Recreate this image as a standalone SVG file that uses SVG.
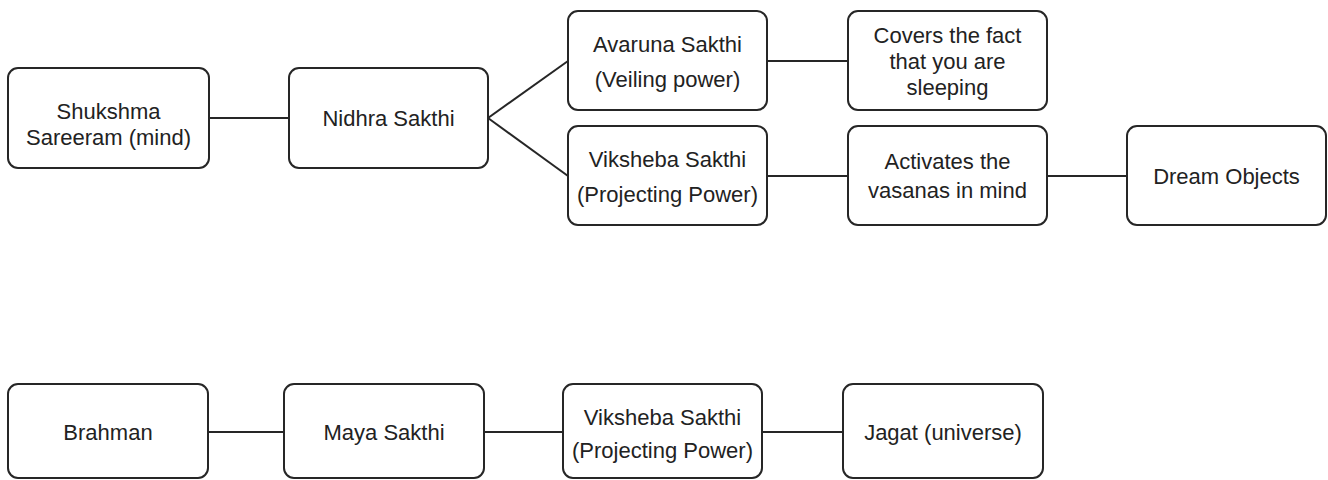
<svg xmlns="http://www.w3.org/2000/svg" width="1328" height="480" viewBox="0 0 1328 480">
<style>
.box{fill:#ffffff;stroke:#262626;stroke-width:2}
.lbl{font-family:"Liberation Sans",Arial,sans-serif;font-size:22px;fill:#222222;text-anchor:middle}
.con{stroke:#262626;stroke-width:2;fill:none}
</style>
<rect width="1328" height="480" fill="#ffffff"/>
<g id="connectors">
<line class="con" x1="209" y1="118" x2="289" y2="118"/>
<line class="con" x1="488" y1="118" x2="568" y2="61"/>
<line class="con" x1="488" y1="118" x2="568" y2="176"/>
<line class="con" x1="767" y1="61" x2="848" y2="61"/>
<line class="con" x1="767" y1="176" x2="848" y2="176"/>
<line class="con" x1="1047" y1="176" x2="1127" y2="176"/>
<line class="con" x1="208" y1="432" x2="284" y2="432"/>
<line class="con" x1="484" y1="432" x2="563" y2="432"/>
<line class="con" x1="762" y1="432" x2="843" y2="432"/>
</g>
<g id="shukshma"><rect class="box" x="8" y="68" width="201" height="100" rx="10"/><text class="lbl" x="108.5" y="119">Shukshma</text><text class="lbl" x="108.5" y="145">Sareeram (mind)</text></g>
<g id="nidhra"><rect class="box" x="289" y="68" width="199" height="100" rx="10"/><text class="lbl" x="388.5" y="126">Nidhra Sakthi</text></g>
<g id="avaruna"><rect class="box" x="568" y="11" width="199" height="99" rx="10"/><text class="lbl" x="667.5" y="52">Avaruna Sakthi</text><text class="lbl" x="667.5" y="87">(Veiling power)</text></g>
<g id="viksheba1"><rect class="box" x="568" y="126" width="199" height="99" rx="10"/><text class="lbl" x="667.5" y="167">Viksheba Sakthi</text><text class="lbl" x="667.5" y="202">(Projecting Power)</text></g>
<g id="covers"><rect class="box" x="848" y="11" width="199" height="99" rx="10"/><text class="lbl" x="947.5" y="43">Covers the fact</text><text class="lbl" x="947.5" y="69">that you are</text><text class="lbl" x="947.5" y="95">sleeping</text></g>
<g id="activates"><rect class="box" x="848" y="126" width="199" height="99" rx="10"/><text class="lbl" x="947.5" y="169">Activates the</text><text class="lbl" x="947.5" y="198">vasanas in mind</text></g>
<g id="dream"><rect class="box" x="1127" y="126" width="199" height="99" rx="10"/><text class="lbl" x="1226.5" y="184">Dream Objects</text></g>
<g id="brahman"><rect class="box" x="8" y="384" width="200" height="94" rx="10"/><text class="lbl" x="108" y="440">Brahman</text></g>
<g id="maya"><rect class="box" x="284" y="384" width="200" height="94" rx="10"/><text class="lbl" x="384" y="440">Maya Sakthi</text></g>
<g id="viksheba2"><rect class="box" x="563" y="384" width="199" height="94" rx="10"/><text class="lbl" x="662.5" y="425">Viksheba Sakthi</text><text class="lbl" x="662.5" y="458">(Projecting Power)</text></g>
<g id="jagat"><rect class="box" x="843" y="384" width="200" height="94" rx="10"/><text class="lbl" x="943" y="440">Jagat (universe)</text></g>
</svg>
